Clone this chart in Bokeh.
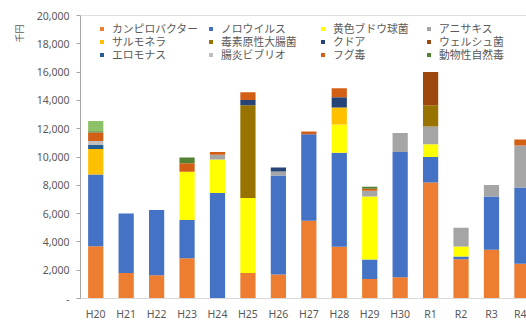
import numpy as np
from bokeh.plotting import figure
from bokeh.models import (ColumnDataSource, Range1d, FixedTicker, NumeralTickFormatter,
                          Legend, LegendItem, Title, Span)
from bokeh.embed import file_html
from bokeh.resources import INLINE

categories = ["H20", "H21", "H22", "H23", "H24", "H25", "H26", "H27",
              "H28", "H29", "H30", "R1", "R2", "R3", "R4"]

series_names = ["カンピロバクター", "ノロウイルス", "黄色ブドウ球菌", "アニサキス",
                "サルモネラ", "毒素原性大腸菌", "クドア", "ウェルシュ菌",
                "エロモナス", "腸炎ビブリオ", "フグ毒", "動物性自然毒"]

campylobacter = [3700, 1800, 1650, 2850, 0, 1800, 1700, 5500, 3650, 1370, 1500, 8200, 2770, 3450, 2450]
norovirus     = [5070, 4200, 4600, 2700, 7450, 0, 7000, 6100, 6650, 1380, 8850, 1800, 200, 3750, 5400]
staph_aureus  = [0, 0, 0, 3400, 2380, 5300, 0, 0, 2000, 4450, 0, 900, 700, 0, 0]
anisakis      = [0, 0, 0, 0, 330, 0, 280, 0, 0, 420, 1350, 1250, 1330, 830, 2970]
salmonella    = [1800, 0, 0, 0, 0, 0, 0, 0, 1200, 0, 0, 0, 0, 0, 0]
etec          = [0, 0, 0, 0, 0, 6550, 0, 0, 0, 0, 0, 1500, 0, 0, 0]
kudoa         = [0, 0, 0, 0, 0, 370, 280, 0, 730, 0, 0, 0, 0, 0, 0]
perfringens   = [0, 0, 0, 0, 0, 0, 0, 0, 0, 0, 0, 2350, 0, 0, 0]
aeromonas     = [280, 0, 0, 0, 0, 0, 0, 0, 0, 0, 0, 0, 0, 0, 0]
vibrio_para   = [280, 0, 0, 0, 0, 0, 0, 0, 0, 0, 0, 0, 0, 0, 0]
puffer_toxin  = [600, 0, 0, 600, 190, 560, 0, 200, 620, 130, 0, 0, 0, 0, 420]
animal_toxin  = [90, 0, 0, 420, 0, 0, 0, 0, 0, 150, 0, 0, 0, 0, 0]
unlisted_green = [720, 0, 0, 0, 0, 0, 0, 0, 0, 0, 0, 0, 0, 0, 0]

colors = ["#ED7D31", "#4472C4", "#FFFF00", "#A5A5A5", "#FFC000", "#997300",
          "#264478", "#9E480E", "#255E91", "#BFBFBF", "#D35F14", "#548235", "#8CC168"]

keys = ["campylobacter", "norovirus", "staph_aureus", "anisakis", "salmonella", "etec",
        "kudoa", "perfringens", "aeromonas", "vibrio_para", "puffer_toxin", "animal_toxin",
        "unlisted_green"]
values = [campylobacter, norovirus, staph_aureus, anisakis, salmonella, etec, kudoa,
          perfringens, aeromonas, vibrio_para, puffer_toxin, animal_toxin, unlisted_green]

data = {"x": list(range(len(categories)))}
for k, v in zip(keys, values):
    data[k] = v
source = ColumnDataSource(data)

p = figure(width=526, height=323, output_backend="svg", toolbar_location=None,
           x_range=Range1d(-0.5, 14.15), y_range=Range1d(0, 20000),
           min_border_left=80, min_border_right=0, min_border_top=15, min_border_bottom=21)
p.outline_line_color = None
p.background_fill_color = "white"
p.border_fill_color = "white"
p.xgrid.grid_line_color = None
p.ygrid.grid_line_color = None

renderers = p.vbar_stack(keys, x="x", width=0.5, source=source, color=colors, line_color=None)

# axes
tick_font = "Noto Sans"
p.yaxis.ticker = FixedTicker(ticks=list(range(0, 20001, 2000)))
p.yaxis.formatter = NumeralTickFormatter(format="0,0")
p.yaxis.major_label_overrides = {0: "-"}
p.yaxis.major_tick_in = 0
p.yaxis.major_tick_out = 4
p.yaxis.minor_tick_line_color = None
p.yaxis.axis_line_color = "#A6A6A6"
p.yaxis.major_tick_line_color = "#A6A6A6"
p.yaxis.major_label_text_font = tick_font
p.yaxis.major_label_text_font_size = "10.5px"
p.yaxis.major_label_text_color = "#595959"
p.yaxis.major_label_standoff = 7

p.xaxis.ticker = FixedTicker(ticks=list(range(len(categories))))
p.xaxis.major_label_overrides = {i: c for i, c in enumerate(categories)}
p.xaxis.major_tick_in = 0
p.xaxis.major_tick_out = 0
p.xaxis.minor_tick_line_color = None
p.xaxis.axis_line_color = "#D9D9D9"
p.xaxis.major_label_text_font = tick_font
p.xaxis.major_label_text_font_size = "10.5px"
p.xaxis.major_label_text_color = "#595959"
p.xaxis.major_label_standoff = 8

p.add_layout(Span(location=20000, dimension="width", line_color="#BFBFBF", line_width=1))

p.add_layout(Title(text="千円", align="right", text_font="Noto Sans CJK JP",
                   text_font_size="9px", text_font_style="normal", text_color="#595959",
                   standoff=16, offset=9), "left")

# legend: 4 columns x 3 rows (row-major), one entry per legend box for exact placement
col_x = [19, 128, 240, 346]
row_y = [262, 249, 236]
for r in range(3):
    for c in range(4):
        idx = r * 4 + c
        leg = Legend(items=[LegendItem(label=series_names[idx], renderers=[renderers[idx]])],
                     location=(col_x[c], row_y[r]), orientation="vertical",
                     glyph_width=5, glyph_height=5, label_standoff=8, label_height=11,
                     spacing=0, padding=0, margin=0, border_line_color=None,
                     background_fill_alpha=0, label_text_font="Noto Sans CJK JP",
                     label_text_font_size="10.8px", label_text_color="#595959")
        p.add_layout(leg, "center")

open("out.html", "w").write(file_html(p, INLINE))
